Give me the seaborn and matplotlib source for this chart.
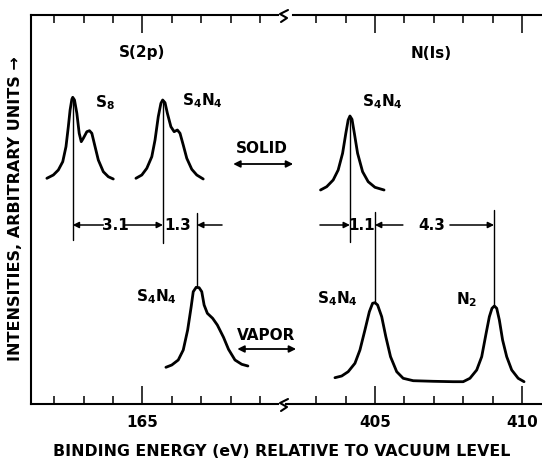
import matplotlib
matplotlib.use("Agg")
import matplotlib.pyplot as plt
from matplotlib.lines import Line2D
import seaborn as sns
import pandas as pd

# ---------------- data ----------------
# S(2p) region, binding energy (eV) / intensity (arbitrary units)
s8_solid_e = [161.75, 161.97, 162.14, 162.29, 162.40, 162.48, 162.54, 162.60, 162.63, 162.69,
              162.77, 162.85, 162.92, 162.99, 163.11, 163.20, 163.28, 163.39, 163.50, 163.67,
              163.84, 164.01]
s8_solid_i = [225.7, 229, 234, 242.3, 257.3, 277.3, 294, 304.7, 306.7, 304,
              290.7, 270.7, 262.3, 265.7, 272.3, 273.3, 270.7, 257.3, 244, 232.3,
              227.3, 225]

s4n4_s_solid_e = [164.78, 164.98, 165.15, 165.32, 165.43, 165.54, 165.63, 165.69, 165.77, 165.85,
                  165.97, 166.08, 166.19, 166.28, 166.39, 166.51, 166.68, 166.85, 167.07]
s4n4_s_solid_i = [225.7, 229, 235.7, 247.3, 264, 287.3, 300.7, 304, 301.3, 290.7,
                  277.3, 272.3, 274, 270.7, 259, 245.7, 234.7, 229, 225]

s4n4_s_vapor_e = [165.80, 166.00, 166.22, 166.39, 166.54, 166.66, 166.73, 166.83, 166.93, 167.02,
                  167.10, 167.21, 167.39, 167.55, 167.76, 167.93, 168.15, 168.38, 168.59]
s4n4_s_vapor_i = [36.7, 39, 44, 54, 74, 97.3, 112.3, 116.7, 116.3, 112.3,
                  99, 90.7, 85.7, 79, 66.7, 54.7, 44, 39.7, 38]

# N(1s) region
s4n4_n_solid_e = [403.15, 403.36, 403.58, 403.75, 403.90, 404.01, 404.09, 404.15, 404.22, 404.30,
                  404.41, 404.58, 404.77, 405.00, 405.31]
s4n4_n_solid_i = [214, 217.3, 224, 234, 250.7, 270.7, 284, 288, 284.7, 270.7,
                  250.7, 232.3, 222.3, 216.7, 214]

n_vapor_e = [403.64, 403.87, 404.09, 404.32, 404.49, 404.66, 404.81, 404.92, 405.00, 405.09,
             405.23, 405.37, 405.53, 405.74, 405.96, 406.30, 406.98, 407.66, 408.00, 408.23,
             408.46, 408.63, 408.78, 408.89, 408.98, 409.06, 409.14, 409.23, 409.34, 409.48,
             409.65, 409.87, 410.07]
n_vapor_i = [26.3, 28, 32.3, 40.7, 54, 74, 92.3, 100.7, 101.3, 99,
             87.3, 67.3, 47.3, 32.3, 25.7, 23.3, 22.7, 22.3, 22.3, 25.7,
             34, 47.3, 70.7, 87.3, 95.7, 98, 95.7, 84, 64, 47.3,
             34, 25.7, 22.3]

# peak positions (eV) used for the marker lines
s_peak_s8 = 162.63
s_peak_s4n4_solid = 165.70
s_peak_s4n4_vapor = 166.86
n_peak_s4n4_solid = 404.15
n_peak_s4n4_vapor = 405.00
n_peak_n2 = 409.05

shift_labels = ["3.1", "1.3", "1.1", "4.3"]

left_major = [165]
left_minor = [162, 163, 164, 166, 167, 168, 169]
right_major = [405, 410]
right_minor = [403, 404, 406, 407, 408, 409]

# ---------------- styling ----------------
sns.set_theme(style="white")
plt.rcParams["font.family"] = ["DejaVu Sans"]
plt.rcParams["font.weight"] = "bold"
plt.rcParams["mathtext.fontset"] = "dejavusans"
plt.rcParams["text.color"] = "black"
plt.rcParams["axes.labelcolor"] = "black"
plt.rcParams["xtick.color"] = "black"

W, H = 542, 462
fig = plt.figure(figsize=(W / 100, H / 100), dpi=100)


def fx(px):
    return px / W


def fy(py):
    return 1 - py / H


axL = fig.add_axes([fx(31), fy(404), fx(282) - fx(31), fy(15) - fy(404)])
axR = fig.add_axes([fx(282), fy(404), fx(542) - fx(282), fy(15) - fy(404)])
axL.set_zorder(3)
axL.patch.set_visible(False)
axL.set_xlim(161.21, 169.75)
axR.set_xlim(401.84, 410.68)
for ax in (axL, axR):
    ax.set_ylim(0, 389)
    ax.set_yticks([])

LW = 2.0
K = "black"


def curve(ax, e, i):
    df = pd.DataFrame({"e": e, "i": i})
    sns.lineplot(data=df, x="e", y="i", ax=ax, sort=False, estimator=None,
                 color=K, lw=LW, solid_joinstyle="round", solid_capstyle="round")


curve(axL, s8_solid_e, s8_solid_i)
curve(axL, s4n4_s_solid_e, s4n4_s_solid_i)
curve(axL, s4n4_s_vapor_e, s4n4_s_vapor_i)
curve(axR, s4n4_n_solid_e, s4n4_n_solid_i)
curve(axR, n_vapor_e, n_vapor_i)
for ax in (axL, axR):
    ax.set_xlabel("")
    ax.set_ylabel("")

# spines
for ax in (axL, axR):
    for s in ax.spines.values():
        s.set_color(K)
        s.set_linewidth(1.5)
axL.spines["right"].set_visible(False)
axR.spines["right"].set_visible(False)
axR.spines["left"].set_visible(False)
axL.spines["bottom"].set_bounds(161.21, 169.62)
axL.spines["top"].set_bounds(161.21, 169.62)
axR.spines["bottom"].set_bounds(401.97, 410.68)
axR.spines["top"].set_bounds(402.2, 410.68)

# ticks
axL.set_xticks(left_major)
axL.set_xticks(left_minor, minor=True)
axR.set_xticks(right_major)
axR.set_xticks(right_minor, minor=True)
for ax in (axL, axR):
    ax.tick_params(axis="x", which="major", direction="in", length=13, width=1.1,
                   top=True, bottom=True, color=K, labelsize=11, pad=8, labelcolor=K)
    ax.tick_params(axis="x", which="minor", direction="in", length=5.5, width=1.1,
                   top=True, bottom=True, color=K)
    for lab in ax.get_xticklabels():
        lab.set_fontweight("bold")
        lab.set_color(K)

# peak marker lines
TL = 1.0
axL.plot([s_peak_s8] * 2, [306, 164], color=K, lw=TL)
axL.plot([s_peak_s4n4_solid] * 2, [304, 161], color=K, lw=TL)
axL.plot([s_peak_s4n4_vapor] * 2, [191, 117], color=K, lw=TL)
axR.plot([n_peak_s4n4_solid] * 2, [287, 162], color=K, lw=TL)
axR.plot([n_peak_s4n4_vapor] * 2, [192, 101], color=K, lw=TL)
axR.plot([n_peak_n2] * 2, [194, 98], color=K, lw=TL)

ap = dict(arrowstyle="-|>", color=K, lw=1.1, mutation_scale=9, shrinkA=0, shrinkB=0)
yd = 179
FS = 11
TXT = dict(ha="center", va="center", fontsize=FS, fontweight="bold", color=K)
# 3.1
axL.annotate("", xy=(s_peak_s8, yd), xytext=(163.67, yd), arrowprops=ap)
axL.annotate("", xy=(s_peak_s4n4_solid, yd), xytext=(164.41, yd), arrowprops=ap)
axL.text(164.07, yd, shift_labels[0], **TXT)
# 1.3
axL.annotate("", xy=(s_peak_s4n4_vapor, yd), xytext=(167.71, yd), arrowprops=ap)
axL.text(166.20, yd, shift_labels[1], **TXT)
# 1.1
axR.annotate("", xy=(n_peak_s4n4_solid, yd), xytext=(403.13, yd), arrowprops=ap)
axR.text(404.56, yd, shift_labels[2], **TXT)
# 4.3
axR.annotate("", xy=(n_peak_s4n4_vapor, yd), xytext=(405.95, yd), arrowprops=ap)
axR.annotate("", xy=(n_peak_n2, yd), xytext=(407.55, yd), arrowprops=ap)
axR.text(406.94, yd, shift_labels[3], **TXT)

# SOLID / VAPOR double arrows
ap2 = dict(arrowstyle="<|-|>", color=K, lw=1.3, mutation_scale=10, shrinkA=0, shrinkB=0)
axL.annotate("", xy=(168.09, 240), xytext=(170.13, 240), arrowprops=ap2, annotation_clip=False)
axL.text(169.07, 256, "SOLID", clip_on=False, **TXT)
axL.annotate("", xy=(168.23, 55), xytext=(170.23, 55), arrowprops=ap2, annotation_clip=False)
axL.text(169.21, 68, "VAPOR", clip_on=False, **TXT)

# species labels
s4n4 = r"S$_{\mathbf{4}}$N$_{\mathbf{4}}$"
axL.text(163.73, 301, r"S$_{\mathbf{8}}$", **TXT)
axL.text(167.04, 303, s4n4, **TXT)
axL.text(165.47, 107, s4n4, **TXT)
axR.text(405.27, 302, s4n4, **TXT)
axR.text(403.74, 105, s4n4, **TXT)
axR.text(408.13, 104, r"N$_{\mathbf{2}}$", **TXT)

# region titles
axL.text(165.0, 352, "S(2p)", **TXT)
axR.text(406.9, 351, "N(Is)", **TXT)

# axis labels
fig.text(fx(16), fy(209), "INTENSITIES, ARBITRARY UNITS \u2192", rotation=90,
         ha="center", va="center", fontsize=11.5, fontweight="bold", color=K)
fig.text(fx(282), fy(451), "BINDING ENERGY (eV) RELATIVE TO VACUUM LEVEL",
         ha="center", va="center", fontsize=11.3, fontweight="bold", color=K)

# axis break marks
for y0 in (404, 15):
    pts = [(288, y0 - 5), (280, y0 - 1), (287, y0 + 3), (281, y0 + 7)]
    fig.add_artist(Line2D([fx(p[0]) for p in pts], [fy(p[1]) for p in pts],
                          color=K, lw=1.5, transform=fig.transFigure))

fig.savefig("out.png", dpi=100, facecolor="white")
